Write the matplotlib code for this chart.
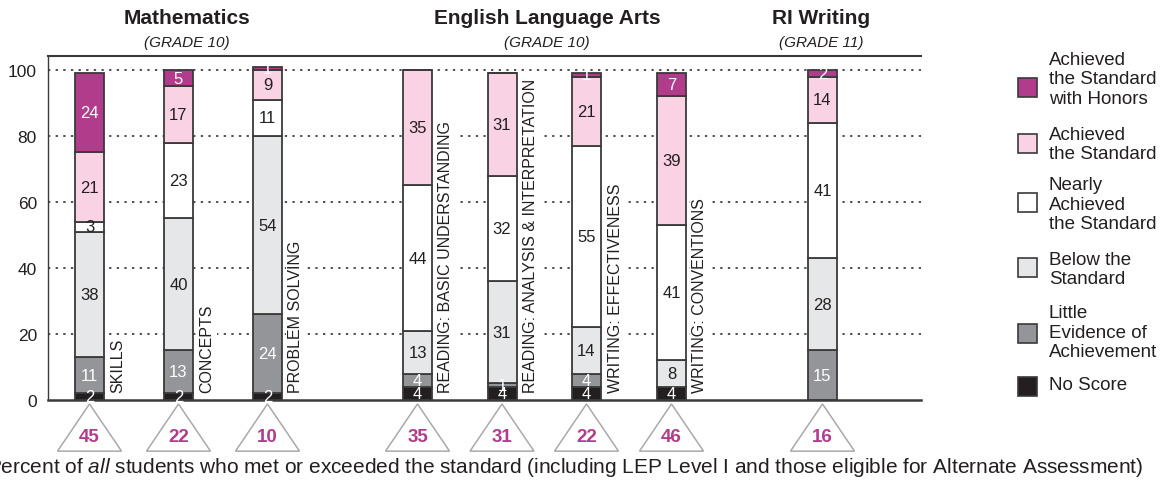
import matplotlib
matplotlib.use("Agg")
import matplotlib.pyplot as plt
from matplotlib.patches import Polygon, Rectangle

plt.rcParams["font.family"] = ["Liberation Sans", "DejaVu Sans"]
plt.rcParams["mathtext.fontset"] = "custom"
plt.rcParams["mathtext.rm"] = "Liberation Sans"
plt.rcParams["mathtext.it"] = "Liberation Sans:italic"

# ---- data (bottom to top of each bar) ----
categories = ["SKILLS", "CONCEPTS", "PROBLEM SOLVING",
              "READING: BASIC UNDERSTANDING", "READING: ANALYSIS & INTERPRETATION",
              "WRITING: EFFECTIVENESS", "WRITING: CONVENTIONS", ""]
no_score = [2, 2, 2, 4, 4, 4, 4, 0]
little_evidence = [11, 13, 24, 4, 1, 4, 0, 15]
below_standard = [38, 40, 54, 13, 31, 14, 8, 28]
nearly_achieved = [3, 23, 11, 44, 32, 55, 41, 41]
achieved = [21, 17, 9, 35, 31, 21, 39, 14]
honors = [24, 5, 1, 0, 0, 1, 7, 2]
met_all_students = [45, 22, 10, 35, 31, 22, 46, 16]

groups = [("Mathematics", "(GRADE 10)"), ("English Language Arts", "(GRADE 10)"),
          ("RI Writing", "(GRADE 11)")]

levels = [
    ("No Score", no_score, "#231f20", "white"),
    ("Little\nEvidence of\nAchievement", little_evidence, "#939598", "white"),
    ("Below the\nStandard", below_standard, "#e6e7e8", "#231f20"),
    ("Nearly\nAchieved\nthe Standard", nearly_achieved, "white", "#231f20"),
    ("Achieved\nthe Standard", achieved, "#f9d3e4", "#231f20"),
    ("Achieved\nthe Standard\nwith Honors", honors, "#b23c8c", "white"),
]

# layout (x in pixel-like units of the axis)
xpos = [89.5, 178.5, 267.5, 417.5, 502, 586.5, 671.5, 822.5]
group_x = [187, 547, 821]
bar_w = 29

fig = plt.figure(figsize=(11.72, 4.85), dpi=100)
ax = fig.add_axes([48 / 1172, 1 - 401 / 485, 873 / 1172, 344 / 485])
ax.set_xlim(48, 921)
ax.set_ylim(0, 104.24)

edge = "#3a3a3a"
bottoms = [0] * len(xpos)
for name, vals, color, tcolor in levels:
    ax.bar(xpos, vals, width=bar_w, bottom=bottoms, color=color,
           edgecolor=edge, linewidth=1.3, zorder=2)
    for x, b, v in zip(xpos, bottoms, vals):
        if v > 0:
            ax.text(x, b + v / 2, str(v), ha="center", va="center",
                    fontsize=12, color=tcolor, zorder=4)
    bottoms = [b + v for b, v in zip(bottoms, vals)]

# category labels to the right of each bar
for x, cat in zip(xpos, categories):
    if cat:
        ax.text(x + bar_w / 2 + 14, 2.3, cat, rotation=90, ha="center", va="bottom",
                fontsize=11.5, color="#231f20", zorder=3,
                bbox=dict(facecolor="white", edgecolor="none", pad=2))

# grid
ax.set_yticks([0, 20, 40, 60, 80, 100])
for yv in [20, 40, 60, 80, 100]:
    ax.axhline(yv, color="#231f20", linestyle=(0, (1.5, 3.5)), linewidth=1.1, zorder=1)
ax.set_xticks([])
ax.tick_params(axis="y", length=0, pad=8, labelsize=12.5, colors="#231f20")
ax.spines["right"].set_visible(False)
ax.spines["top"].set_color("#3a3a3a")
ax.spines["top"].set_linewidth(1.5)
ax.spines["bottom"].set_color("#3a3a3a")
ax.spines["bottom"].set_linewidth(1.8)
ax.spines["left"].set_color("#3a3a3a")
ax.spines["left"].set_linewidth(1.0)

# group titles
for gx, (title, grade) in zip(group_x, groups):
    ax.text(gx, 115.8, title, ha="center", va="center", fontsize=15,
            fontweight="bold", color="#231f20", clip_on=False)
    ax.text(gx, 108.5, grade, ha="center", va="center", fontsize=11,
            style="italic", color="#231f20", clip_on=False)

# triangles with percent of all students meeting standard
for x, v in zip(xpos, met_all_students):
    tri = Polygon([[x, -1.2], [x - 32, -15.5], [x + 32, -15.5]], closed=True,
                  facecolor="white", edgecolor="#a7a9ac", linewidth=1.1, clip_on=False)
    ax.add_patch(tri)
    ax.text(x, -11.0, str(v), ha="center", va="center", fontsize=13.5,
            fontweight="bold", color="#b23c8c", clip_on=False)

fig.text(-0.011, 1 - 468 / 485,
         r"Percent of $\it{all}$ students who met or exceeded the standard "
         "(including LEP Level I and those eligible for Alternate Assessment)",
         ha="left", va="center", fontsize=15, color="#231f20")

# legend
legend_y = [88, 144, 203, 268, 334, 387]
text_y = [80, 145, 205, 270, 333, 386]
for (name, vals, color, tcolor), sy, ty in zip(levels[::-1], legend_y, text_y):
    fig.patches.append(Rectangle((1018 / 1172, 1 - (sy + 9.5) / 485), 19 / 1172, 19 / 485,
                                 transform=fig.transFigure, facecolor=color,
                                 edgecolor=edge, linewidth=1.2))
    fig.text(1049 / 1172, 1 - ty / 485, name, ha="left", va="center",
             fontsize=13.5, color="#231f20", linespacing=1.22)

fig.savefig("out.png", dpi=100)
